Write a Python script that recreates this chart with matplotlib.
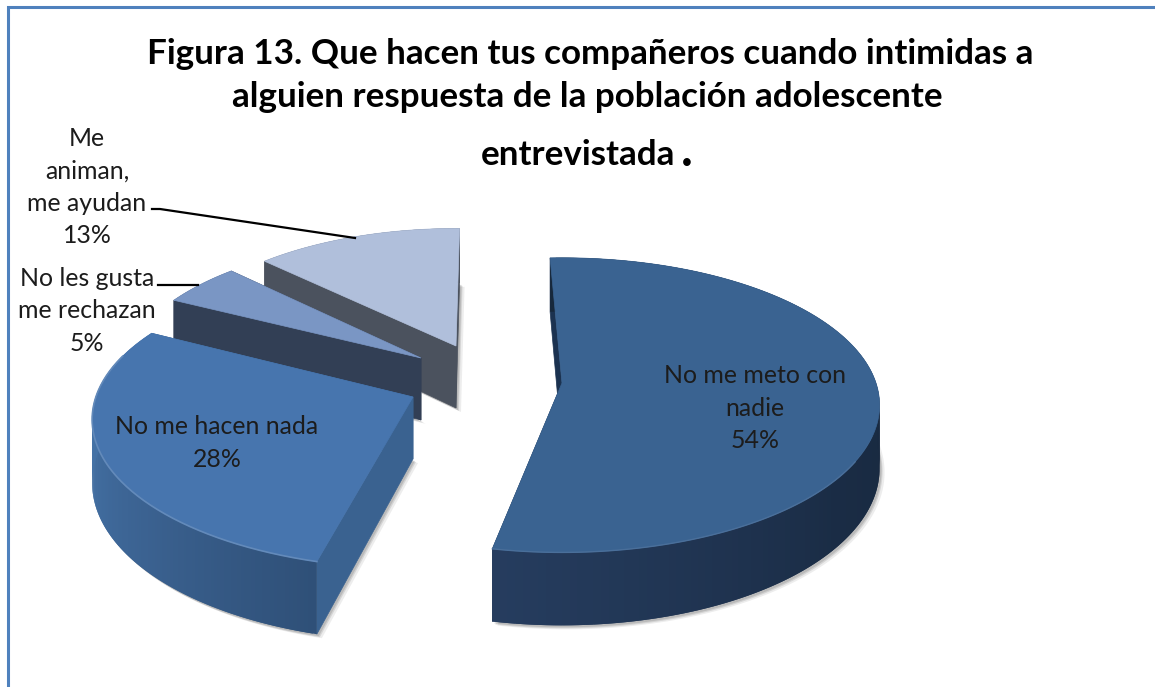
import numpy as np
import matplotlib
matplotlib.use("Agg")
import matplotlib.pyplot as plt
from matplotlib.colors import to_rgb
from matplotlib.patches import Polygon

title_lines = ["Figura 13. Que hacen tus compañeros cuando intimidas a",
               "alguien respuesta de la población adolescente",
               "entrevistada"]
categories = ["No me meto con\nnadie", "No me hacen nada",
              "No les gusta\nme rechazan", "Me\naniman,\nme ayudan"]
values = [54, 28, 5, 13]

# the look of each slice: top colour, side colours, inner wall, apex, radius
top_colors = ["#3a6391", "#4775ae", "#7a96c4", "#b0bfdb"]
wall_colors = ["#1b3250", "#3a6290", "#323f55", "#4b525e"]
side_stops = [["#17283b", "#17283b", "#1a2c45", "#263d5f"],
              ["#2f5078", "#3b6291", "#4472a6", "#4472a6"],
              ["#323f55"] * 4,
              ["#4b525e"] * 4]
apex = [(562, 383), (413, 397), (421, 358), (456, 346)]
radius = [1.0, 1.01, 0.94, 0.93]
nudge = [0, 3.1, 4.3, 3.3]  # office pie leaves slightly bigger gaps

START = -2.5
RX, RY, PERSP, DEPTH = 314, 144, 0.15, 62


def project(ang, r, ctr, depth=0):
    """Clock angle on the pie -> picture position with some perspective."""
    a = np.radians(ang)
    u, v = r * np.sin(a), -r * np.cos(a)
    s = 1 / (1 - PERSP * v)
    return ctr[0] + RX * u * s, ctr[1] + RY * v * s + depth * s


def blend(stops, t):
    pos = t * (len(stops) - 1)
    i = min(int(pos), len(stops) - 2)
    c0, c1 = np.array(to_rgb(stops[i])), np.array(to_rgb(stops[i + 1]))
    return tuple(c0 + (c1 - c0) * (pos - i))


def draw_slice(ax, i, a0, a1):
    ctr, r = apex[i], radius[i]
    angs = np.linspace(a0, a1, 160)
    tx, ty = project(angs, r, ctr)
    bx, by = project(angs, r, ctr, DEPTH)
    base_y = ctr[1] + DEPTH

    # soft shadow from the bottom face
    bottom = list(zip(bx, by)) + [(ctr[0], base_y)]
    for dx, dy, al in [(5, 4, 0.10), (3, 3, 0.16), (2, 2, 0.2)]:
        ax.add_patch(Polygon([(x + dx, y + dy) for x, y in bottom], closed=True,
                             fc="#555555", ec="none", alpha=al, zorder=i * -10))

    z = -i * 10 + 1
    # walls along the two cuts
    for n in [0, -1]:
        c = wall_colors[i]
        ax.add_patch(Polygon([ctr, (tx[n], ty[n]), (bx[n], by[n]), (ctr[0], base_y)],
                             closed=True, fc=c, ec=c, lw=0.5, zorder=z))
    # outer side as overlapping strips so the gradient has no seams
    for k in range(len(angs) - 1):
        c = blend(side_stops[i], (angs[k] - a0) / (a1 - a0))
        e = min(k + 3, len(angs))
        ax.add_patch(Polygon(list(zip(tx[k:e], ty[k:e])) + list(zip(bx[k:e], by[k:e]))[::-1],
                             closed=True, fc=c, ec="none", zorder=z + 1))
    # top face
    ax.add_patch(Polygon([ctr] + list(zip(tx, ty)), closed=True,
                         fc=top_colors[i], ec=top_colors[i], lw=0.5, zorder=z + 2))
    # lighter bevel on the rim
    if i == 1:
        front = np.cos(np.radians(angs)) < 0.3
        rim = np.array(to_rgb(top_colors[i])) * 0.85 + 0.15
        ax.plot(tx[front], ty[front], color=rim, lw=1.2, zorder=z + 3)
    if i == 0:
        front = np.cos(np.radians(angs)) < -0.5
        rim = np.array(to_rgb(top_colors[i])) * 0.92 + 0.08
        ax.plot(tx[front], ty[front], color=rim, lw=1.0, zorder=z + 3)


fig = plt.figure(figsize=(11.55, 6.87), dpi=100)
ax = fig.add_axes([0, 0, 1, 1])
ax.set_xlim(0, 1155)
ax.set_ylim(687, 0)
ax.axis("off")

# frame, only top and left show
ax.plot([7.5, 7.5, 1155], [687, 7, 7], color="#4f81bd", lw=2.2, solid_joinstyle="miter")

angles = START + np.cumsum([0] + values) * 3.6
ends = [-1, 2.2, 0, 0]
for i in range(len(values)):
    draw_slice(ax, i, angles[i] + nudge[i], angles[i + 1] + nudge[i] + ends[i])

plt.rcParams["font.family"] = ["Lato", "DejaVu Sans"]
title_kw = dict(ha="center", va="center", fontsize=25.2, fontweight="bold", color="#000000", zorder=50)
ax.text(590, 54, title_lines[0], **title_kw)
ax.text(587, 97, title_lines[1], **title_kw)
ax.text(578, 155, title_lines[2], **title_kw)
ax.text(687, 151, ".", ha="center", va="center", fontsize=36, fontweight="bold", color="#000000", zorder=50)

label_kw = dict(ha="center", va="center", fontsize=17.9, color="#1c1c1c", zorder=50, linespacing=1.5)
label_pos = [(755, 408), (217, 443), (87, 311), (87, 187)]
for i, (name, val) in enumerate(zip(categories, values)):
    ax.text(label_pos[i][0], label_pos[i][1], f"{name}\n{val}%", **label_kw)

# leader lines
ax.plot([152, 160, 355], [209, 209, 238], color="black", lw=1.6, zorder=40)
ax.plot([158, 198], [285, 285], color="black", lw=1.6, zorder=40)

plt.savefig("out.png", dpi=100)
plt.close()
